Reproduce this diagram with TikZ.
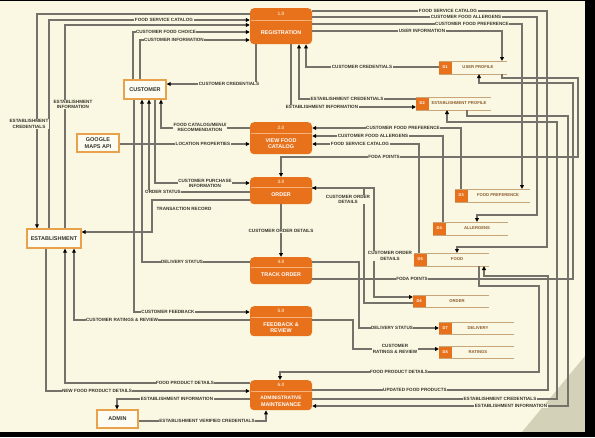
\documentclass[tikz,border=0pt]{standalone}
\usepackage{fontspec}
\setmainfont{Liberation Sans}
\usetikzlibrary{arrows.meta}
\definecolor{bg}{HTML}{FAF8E2}
\definecolor{proc}{HTML}{E8711C}
\definecolor{numcol}{HTML}{FBD5AE}
\definecolor{txt}{HTML}{35342A}
\definecolor{flow}{HTML}{74726A}
\definecolor{entb}{HTML}{E9A24C}
\definecolor{entfill}{HTML}{FDFCF2}
\definecolor{stline}{HTML}{C9A57A}
\definecolor{sttext}{HTML}{8A5A2E}
\definecolor{divcol}{HTML}{F6B27A}
\definecolor{tri}{HTML}{D4D1B9}
\tikzset{
 fl/.style={draw=flow, line width=1.1pt},
 arr/.style={fl, -{Triangle[length=4pt,width=3.8pt,color=black]}},
 lbl/.style={font=\bfseries\fontsize{4.6}{5.3}\selectfont, text=txt, fill=bg, inner sep=0.5pt, align=center},
 procbox/.style={fill=proc, rounded corners=4pt, minimum width=62pt, inner sep=0pt, draw=none},
 procnum/.style={font=\bfseries\fontsize{4.8}{5}\selectfont, text=numcol, inner sep=0pt},
 proctitle/.style={font=\bfseries\fontsize{5.4}{6.6}\selectfont, text=white, align=center, inner sep=0pt},
 divline/.style={draw=divcol, line width=0.8pt},
 ent/.style={draw=entb, line width=1.3pt, fill=entfill, font=\bfseries\fontsize{5.5}{6.6}\selectfont, text=txt, align=center, inner sep=0pt},
 storeline/.style={draw=stline, line width=0.8pt},
 storeid/.style={font=\bfseries\fontsize{4}{4}\selectfont, text=white, inner sep=0pt},
 storetext/.style={font=\bfseries\fontsize{4.2}{5}\selectfont, text=sttext, inner sep=0pt},
}
\newcommand\mkproc[8]{%
  \node[procbox, minimum height=#3-#2, anchor=north] (#1) at (281,#2) {};
  \draw[divline] (250.5,#4) -- (311.5,#4);
  \node[procnum] (#1n) at (281,#6) {#5};
  \node[proctitle] (#1t) at (281,#8) {#7};
}
\newcommand\dstore[8]{%
  \node[draw=none, minimum width=#5-#2, minimum height=#4-#3, inner sep=0pt, outer sep=0pt, anchor=north west] (#1) at (#2,#3) {};
  \fill[proc] (#2,#3) rectangle ({#2+12.5},#4);
  \draw[storeline] (#2,#3) -- (#5,#3);
  \draw[storeline] (#2,#4) -- (#5,#4);
  \node[storeid] (#1i) at ({#2+6.25},{(#3+#4)/2}) {#6};
  \node[storetext] (#1l) at (#8,{(#3+#4)/2}) {#7};
}
\begin{document}
\begin{tikzpicture}[x=1pt,y=-1pt]
\useasboundingbox (0,0) rectangle (595,437);
\fill[bg] (0,0) rectangle (595,437);
\fill[tri] (585,356) -- (585,432) -- (522,432) -- cycle;
\fill[black] (585,0) rectangle (595,437);
\fill[black] (0,432) rectangle (595,437);
\fill[black] (0,0) rectangle (595,1.2);

% processes
\mkproc{p1}{8}{44}{20}{1.0}{14}{REGISTRATION}{32.5}
\mkproc{p2}{122}{154}{133}{2.0}{127.5}{VIEW FOOD\\CATALOG}{143.5}
\mkproc{p3}{177}{204}{187}{3.0}{182}{ORDER}{195}
\mkproc{p4}{257}{284}{267}{4.0}{262}{TRACK ORDER}{275}
\mkproc{p5}{306}{336}{317}{5.0}{311}{FEEDBACK \&\\REVIEW}{327.5}
\mkproc{p6}{380}{410}{391}{6.0}{385}{\fontsize{4.9}{6.4}\selectfont ADMINISTRATIVE\\MAINTENANCE}{401.5}

% external entities
\node[ent, minimum width=42pt, minimum height=19pt] (cust) at (145,89.5) {CUSTOMER};
\node[ent, minimum width=42pt, minimum height=18pt] (gmap) at (98,143) {GOOGLE\\MAPS API};
\node[ent, minimum width=54pt, minimum height=19pt] (est) at (54,238.5) {ESTABLISHMENT};
\node[ent, minimum width=41pt, minimum height=18pt] (admin) at (117.5,419) {ADMIN};

% data stores
\dstore{d1}{439}{61}{74}{507}{D1}{USER PROFILE}{478}
\dstore{d2}{416}{97}{110}{491}{D2}{ESTABLISHMENT PROFILE}{459}
\dstore{d3}{455}{189}{202}{530}{D3}{FOOD PREFERENCE}{498}
\dstore{d4}{433}{222}{235}{508}{D4}{ALLERGENS}{477}
\dstore{d5}{414}{253}{266}{489}{D5}{FOOD}{457}
\dstore{d6}{413}{295}{307}{489}{D6}{ORDER}{457}
\dstore{d7}{439}{322}{334}{514}{D7}{DELIVERY}{478}
\dstore{d8}{439}{346}{358}{514}{D8}{RATINGS}{478}

% registration, left side
\draw[arr] (p1.west |- 0,14) -- (37,14) -- (37,0 |- est.north);
\draw[arr] (49,0 |- est.north) -- (49,20) -- (p1.west |- 0,20);
\draw[arr] (65,0 |- est.north) -- (65,25) -- (p1.west |- 0,25);
\draw[arr] (133,0 |- cust.north) -- (133,32) -- (p1.west |- 0,32);
\draw[arr] (140,0 |- cust.north) -- (140,40) -- (p1.west |- 0,40);
\draw[arr] (256,0 |- p1.south) -- (256,84) -- (cust.east |- 0,84);
% registration, right side
\draw[arr] (p1.east |- 0,11) -- (547,11) -- (547,247) -- (457,247) -- (457,0 |- d5.north);
\draw[arr] (p1.east |- 0,17) -- (537,17) -- (537,215) -- (477,215) -- (477,0 |- d4.north);
\draw[arr] (p1.east |- 0,24) -- (522,24) -- (522,0 |- d3.north);
\draw[arr] (p1.east |- 0,31) -- (502,31) -- (502,0 |- d1.north);
\draw[arr] (d1.west |- 0,67) -- (306,67) -- (306,0 |- p1.south);
\draw[arr] (d2.west |- 0,99) -- (299,99) -- (299,0 |- p1.south);
\draw[arr] (291,0 |- p1.south) -- (291,107) -- (d2.west |- 0,107);
% right loops
\draw[arr] (502,0 |- d1.south) -- (502,78) -- (578,78) -- (578,157) -- (281,157) -- (p3.north);
\draw[arr] (p4.east |- 0,279) -- (573,279) -- (573,83) -- (479,83) -- (479,0 |- d1.south);
\draw[arr] (467,0 |- d2.south) -- (467,116) -- (568,116) -- (568,406) -- (p6.east |- 0,406);
\draw[arr] (p6.east |- 0,399) -- (557,399) -- (557,122) -- (447,122) -- (447,0 |- d2.south);
\draw[arr] (p6.east |- 0,390) -- (548,390) -- (548,276) -- (484,276) -- (484,0 |- d5.south);
\draw[arr] (479,0 |- d5.south) -- (479,286) -- (539,286) -- (539,372) -- (280,372) -- (280,0 |- p6.north);
% view food catalog
\draw[arr] (p2.west |- 0,128) -- (161,128) -- (161,0 |- cust.south);
\draw[arr] (gmap.east |- 0,144) -- (p2.west |- 0,144);
\draw[arr] (461,0 |- d3.north) -- (461,128) -- (p2.east |- 0,128);
\draw[arr] (443,0 |- d4.north) -- (443,136) -- (p2.east |- 0,136);
\draw[arr] (419,0 |- d5.north) -- (419,144) -- (p2.east |- 0,144);
% order
\draw[arr] (155,0 |- cust.south) -- (155,183) -- (p3.west |- 0,183);
\draw[arr] (p3.west |- 0,192) -- (149,192) -- (149,0 |- cust.south);
\draw[arr] (p3.west |- 0,200) -- (152,200) -- (152,232) -- (est.east |- 0,232);
\draw[arr] (p3.south) -- (p4.north);
\draw[arr] (p3.east |- 0,188) -- (374,188) -- (374,297) -- (d6.west |- 0,297);
\draw[arr] (d6.west |- 0,303) -- (364,303) -- (364,188) -- (p3.east |- 0,188);
% track order
\draw[arr] (p4.west |- 0,262) -- (142,262) -- (142,0 |- cust.south);
\draw[arr] (p4.east |- 0,262) -- (359,262) -- (359,328) -- (d7.west |- 0,328);
% feedback
\draw[arr] (134,0 |- cust.south) -- (134,312) -- (p5.west |- 0,312);
\draw[arr] (p5.west |- 0,320) -- (74,320) -- (74,0 |- est.south);
\draw[arr] (p5.east |- 0,320) -- (353,320) -- (353,349) -- (d8.west |- 0,349);
% administrative maintenance
\draw[arr] (p6.west |- 0,383) -- (65,383) -- (65,0 |- est.south);
\draw[arr] (46,0 |- est.south) -- (46,391) -- (p6.west |- 0,391);
\draw[arr] (p6.west |- 0,399) -- (117,399) -- (117,0 |- admin.north);
\draw[arr] (admin.east |- 0,421) -- (266,421) -- (266,0 |- p6.south);

% labels
\node[lbl] (l1) at (29,124) {ESTABLISHMENT\\CREDENTIALS};
\node[lbl] (l2) at (164,20) {FOOD SERVICE CATALOG};
\node[lbl] (l3) at (73,104.5) {ESTABLISHMENT\\INFORMATION};
\node[lbl] (l4) at (166,32) {CUSTOMER FOOD CHOICE};
\node[lbl] (l5) at (174,40) {CUSTOMER INFORMATION};
\node[lbl] (l6) at (229,84) {CUSTOMER CREDENTIALS};
\node[lbl] (l7) at (448,11) {FOOD SERVICE CATALOG};
\node[lbl] (l8) at (466,17) {CUSTOMER FOOD ALLERGENS};
\node[lbl] (l9) at (472,24) {CUSTOMER FOOD PREFERENCE};
\node[lbl] (l10) at (422,31) {USER INFORMATION};
\node[lbl] (l11) at (362,67) {CUSTOMER CREDENTIALS};
\node[lbl] (l12) at (347,99) {ESTABLISHMENT CREDENTIALS};
\node[lbl] (l13) at (322,107) {ESTABLISHMENT INFORMATION};
\node[lbl] (l14) at (384,157) {FODA POINTS};
\node[lbl] (l15) at (412,279) {FODA POINTS};
\node[lbl] (l16) at (511,406) {ESTABLISHMENT INFORMATION};
\node[lbl] (l17) at (500,399) {ESTABLISHMENT CREDENTIALS};
\node[lbl] (l18) at (415,390) {UPDATED FOOD PRODUCTS};
\node[lbl] (l19) at (399,372) {FOOD PRODUCT DETAILS};
\node[lbl] (l20) at (200,127.5) {FOOD CATALOG/MENU/\\RECOMMENDATION};
\node[lbl] (l21) at (203,144) {LOCATION PROPERTIES};
\node[lbl] (l22) at (403,128) {CUSTOMER FOOD PREFERENCE};
\node[lbl] (l23) at (373,136) {CUSTOMER FOOD ALLERGENS};
\node[lbl] (l24) at (360,144) {FOOD SERVICE CATALOG};
\node[lbl] (l25) at (205,183.5) {CUSTOMER PURCHASE\\INFORMATION};
\node[lbl] (l26) at (163,192) {ORDER STATUS};
\node[lbl, fill=none] (l27) at (184,209) {TRANSACTION RECORD};
\node[lbl] (l28) at (281,231) {CUSTOMER ORDER DETAILS};
\node[lbl] (l29) at (348,199.5) {CUSTOMER ORDER\\DETAILS};
\node[lbl] (l30) at (390,256) {CUSTOMER ORDER\\DETAILS};
\node[lbl] (l31) at (182,262) {DELIVERY STATUS};
\node[lbl] (l32) at (392,328) {DELIVERY STATUS};
\node[lbl] (l33) at (168,312) {CUSTOMER FEEDBACK};
\node[lbl] (l34) at (122,320) {CUSTOMER RATINGS \& REVIEW};
\node[lbl] (l35) at (395,349) {CUSTOMER\\RATINGS \& REVIEW};
\node[lbl] (l36) at (185,383) {FOOD PRODUCT DETAILS};
\node[lbl] (l37) at (97,391) {NEW FOOD PRODUCT DETAILS};
\node[lbl] (l38) at (177,399) {ESTABLISHMENT INFORMATION};
\node[lbl] (l39) at (207,421) {ESTABLISHMENT VERIFIED CREDENTIALS};
\end{tikzpicture}
\end{document}
